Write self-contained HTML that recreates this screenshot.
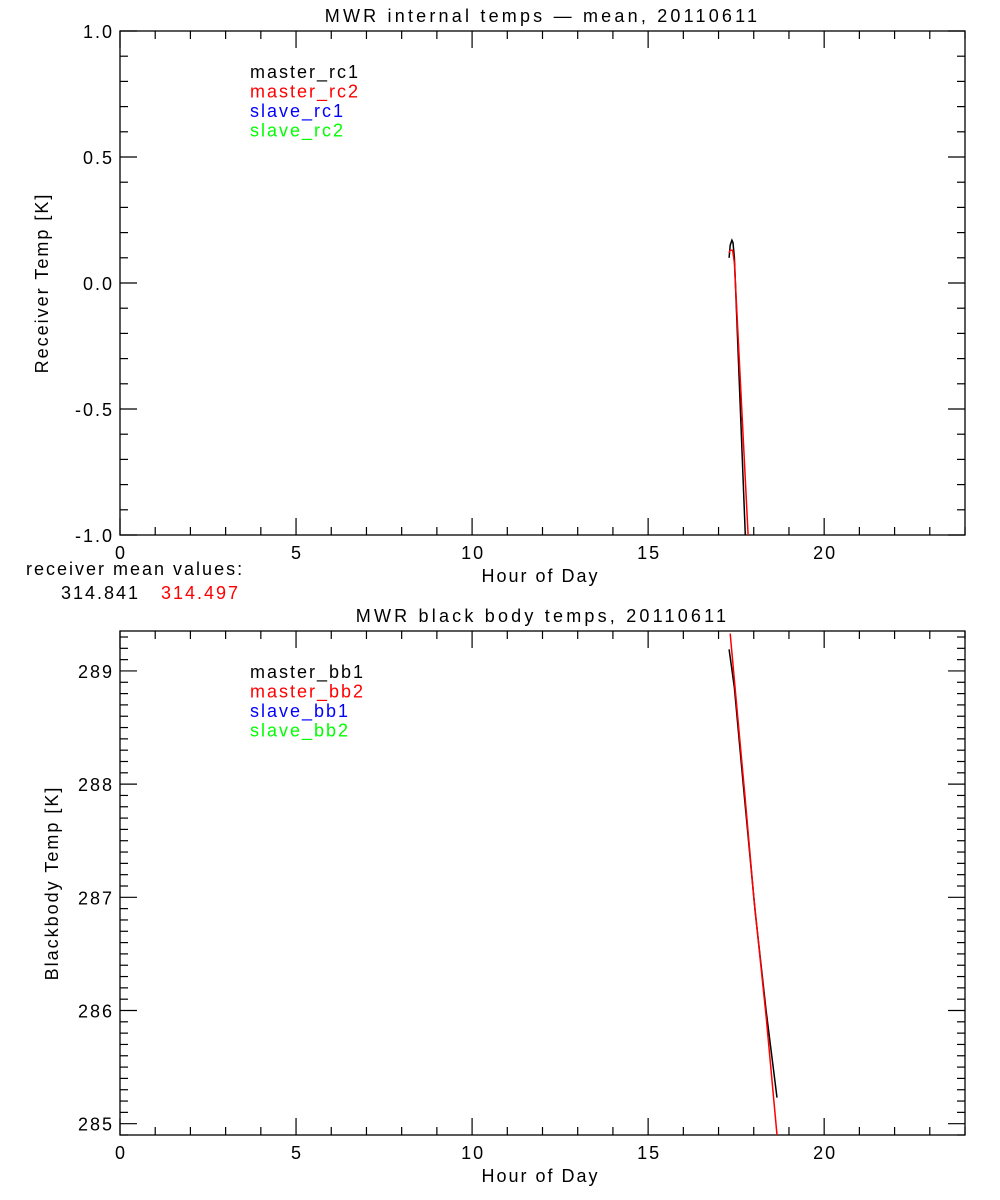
<!DOCTYPE html>
<html><head><meta charset="utf-8"><style>
body{margin:0;background:#fff;}
svg{display:block;font-family:"Liberation Sans",sans-serif;}
text{font-size:18px;letter-spacing:2px;}
</style></head><body>
<svg id="c" width="1000" height="1200" xmlns="http://www.w3.org/2000/svg"></svg>
<script>
const xTicks=[0,5,10,15,20];
const topYTicks=[-1.0,-0.5,0.0,0.5,1.0];
const botYTicks=[285,286,287,288,289];
const rcSeriesNames=["master_rc1","master_rc2","slave_rc1","slave_rc2"];
const bbSeriesNames=["master_bb1","master_bb2","slave_bb1","slave_bb2"];
const seriesColors=["#000","#f00","#00f","#0f0"];
const rc1Hours=[17.30,17.33,17.38,17.41,17.45,17.76,17.90];
const rc1Vals=[0.10,0.15,0.17,0.16,0.10,-1.0,-1.6];
const rc2Hours=[17.30,17.33,17.40,17.45,17.84,17.95];
const rc2Vals=[0.12,0.13,0.13,0.08,-1.0,-1.3];
const bb1Hours=[17.30,17.45,17.70,18.04,18.35,18.66];
const bb1Vals=[289.19,288.85,288.0,286.87,286.0,285.23];
const bb2Hours=[17.33,17.50,17.75,18.00,18.35,18.66];
const bb2Vals=[289.33,288.75,287.9,287.0,285.95,284.9];
const meanVals=["314.841","314.497"];

const svg=document.getElementById('c');
const NS="http://www.w3.org/2000/svg";
function el(t,a,p){const e=document.createElementNS(NS,t);for(const k in a)e.setAttribute(k,a[k]);(p||svg).appendChild(e);return e;}
function txt(s,x,y,a,p){const e=el('text',a,p);e.setAttribute('x',x);e.setAttribute('y',y);e.textContent=s;return e;}

function panel(cfg){
  const {name,L,R,T,B,ymin,ymax,yTicks,yMinorStep,yFmt,title,ylab,names,series}=cfg;
  const g=el('g',{});
  
  
  const sx=h=>L+(h-0)/(24-0)*(R-L);
  const sy=v=>B-(v-ymin)/(ymax-ymin)*(B-T);
  const clipId=name+'-clip';
  const cp=el('clipPath',{id:clipId},g);el('rect',{x:L,y:T,width:R-L,height:B-T},cp);
  const frame=el('rect',{x:L,y:T,width:R-L,height:B-T,fill:'none',stroke:'#000','stroke-width':1.3},g);
  
  for(let h=0;h<=24;h++){
    const len=h%5===0?17:8,x=sx(h);
    el('line',{x1:x,y1:B,x2:x,y2:B-len,stroke:'#000','stroke-width':1.2},g);
    el('line',{x1:x,y1:T,x2:x,y2:T+len,stroke:'#000','stroke-width':1.2},g);
  }
  xTicks.forEach(h=>{const t=txt(String(h),sx(h)+1,B+24,{'text-anchor':'middle'},g);
    });
  const xl=txt('Hour of Day',(L+R)/2-2,B+47,{'text-anchor':'middle'},g);
  
  const start=Math.ceil(ymin/yMinorStep-1e-6);
  for(let i=start;i*yMinorStep<=ymax+1e-9;i++){
    const v=i*yMinorStep,y=sy(v);
    const maj=yTicks.some(t=>Math.abs(t-v)<1e-6);
    const len=maj?17:8;
    el('line',{x1:L,y1:y,x2:L+len,y2:y,stroke:'#000','stroke-width':1.2},g);
    el('line',{x1:R,y1:y,x2:R-len,y2:y,stroke:'#000','stroke-width':1.2},g);
  }
  yTicks.forEach(v=>{const t=txt(yFmt(v),L-6,sy(v)+7,{'text-anchor':'end'},g);
    });
  const yl=txt(ylab,0,0,{'text-anchor':'middle',transform:`translate(${cfg.ylx},${(T+B)/2}) rotate(-90)`},g);
  
  const tt=txt(title,(L+R)/2,T-9,{'text-anchor':'middle','font-size':'22','style':'letter-spacing:3.2px'},g);
  
  names.forEach((s,i)=>{const t=txt(s,250,T+47+i*19.5,{fill:seriesColors[i]},g);
    });
  const cg=el('g',{'clip-path':`url(#${clipId})`},g);
  series.forEach((s,i)=>{
    const d=s.h.map((h,j)=>(j?'L':'M')+sx(h).toFixed(1)+','+sy(s.v[j]).toFixed(1)).join('');
    const p=el('path',{d,fill:'none',stroke:s.c,'stroke-width':1.5},cg);
    
  });
}
panel({name:'receiver-panel',L:120,R:965,T:31,B:535,ymin:-1,ymax:1,yTicks:topYTicks,yMinorStep:0.1,
  yFmt:v=>v.toFixed(1),title:'MWR internal temps \u2014 mean, 20110611',ylab:'Receiver Temp [K]',ylx:48,
  names:rcSeriesNames,series:[{h:rc1Hours,v:rc1Vals,c:'#000'},{h:rc2Hours,v:rc2Vals,c:'#f00'}]});
panel({name:'blackbody-panel',L:120,R:965,T:631,B:1135,ymin:284.9,ymax:289.353,yTicks:botYTicks,yMinorStep:0.1,
  yFmt:v=>String(v),title:'MWR black body temps, 20110611',ylab:'Blackbody Temp [K]',ylx:58,
  names:bbSeriesNames,series:[{h:bb1Hours,v:bb1Vals,c:'#000'},{h:bb2Hours,v:bb2Vals,c:'#f00'}]});
const m=txt('receiver mean values:',26,575,{});

const m1=txt(meanVals[0],61,599,{});

const m2=txt(meanVals[1],161,599,{fill:'#f00'});

</script>
</body></html>
